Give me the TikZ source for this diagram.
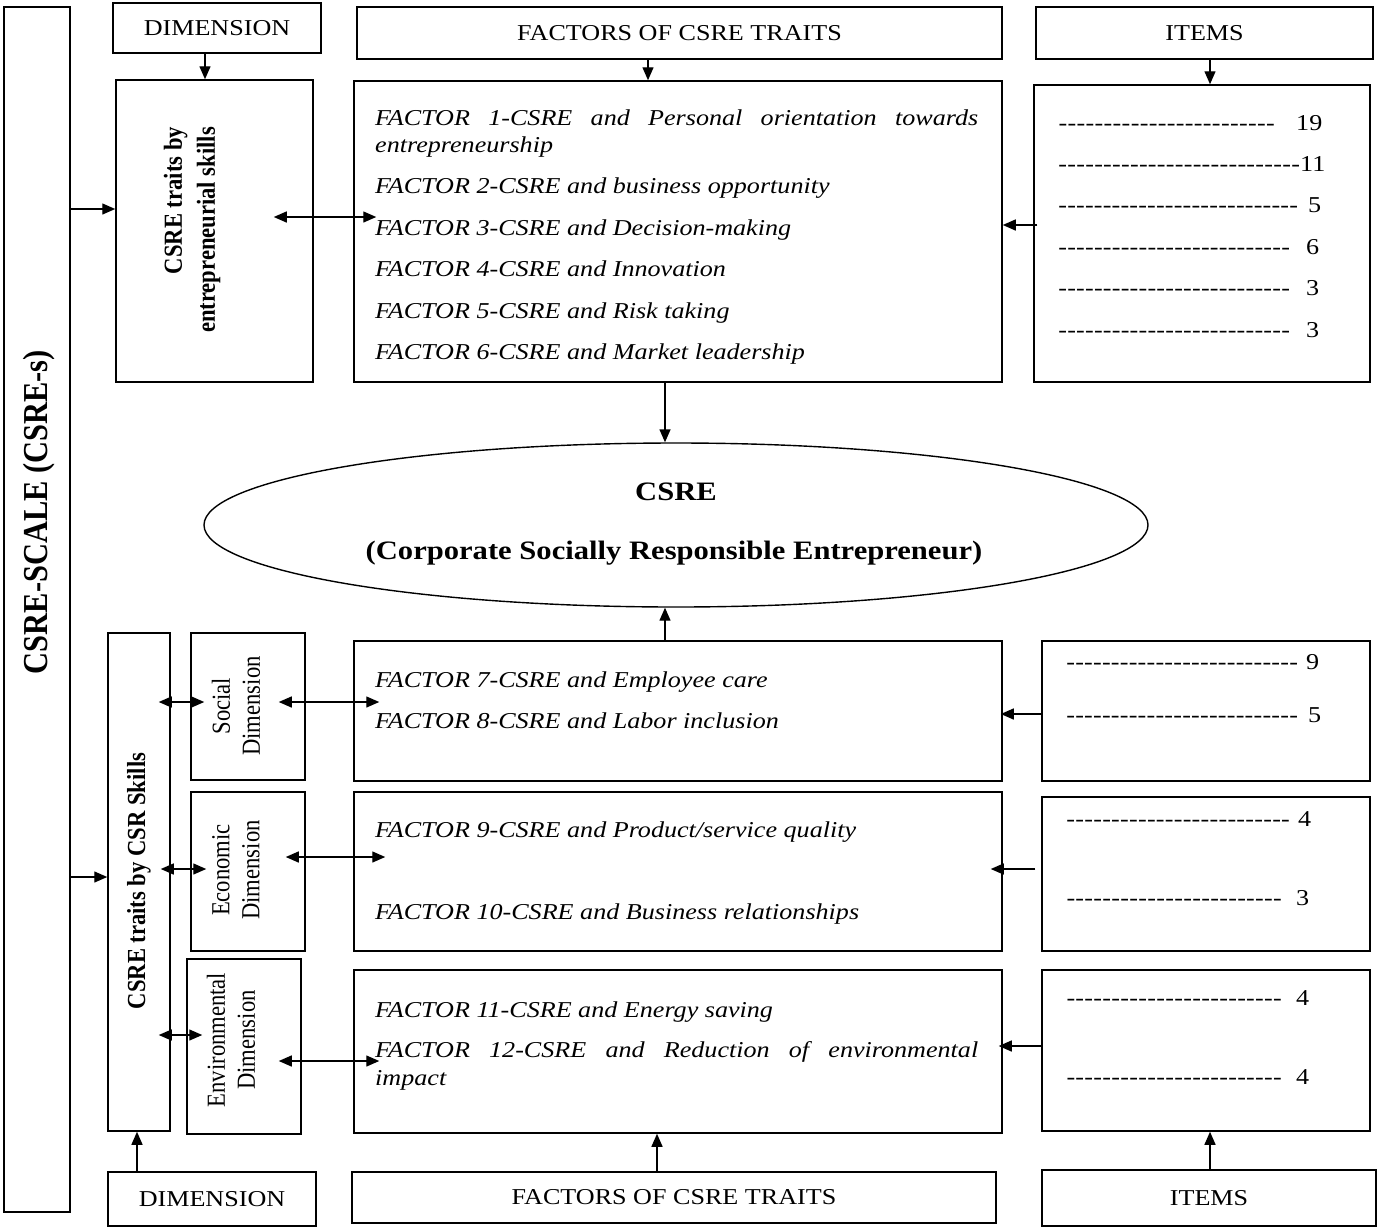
\documentclass[tikz,border=0pt]{standalone}
\usepackage{fontspec}
\setmainfont{Liberation Serif}[FakeStretch=1.15]
\newfontfamily\rotfont{Liberation Serif}[FakeStretch=0.87]
\usetikzlibrary{arrows.meta,shapes.geometric}
\newcommand{\dashrow}[1]{\hbox to #1pt{\xleaders\hbox{-}\hfill}}
\tikzset{
  box/.style={draw,line width=1.5pt,inner sep=0pt},
  arr/.style={line width=1.4pt,-{Triangle[length=13pt,width=11pt]}},
  darr/.style={line width=1.4pt,{Triangle[length=13pt,width=11pt]}-{Triangle[length=13pt,width=11pt]}},
  hd/.style={font=\fontsize{22.7}{27}\selectfont},
  ft/.style={anchor=base west,inner sep=0pt,font=\fontsize{22.7}{27}\selectfont\itshape},
  it/.style={anchor=base west,inner sep=0pt,font=\fontsize{22.7}{27}\selectfont},
  rt/.style={rotate=90,inner sep=0pt,align=center,font=\rotfont\fontsize{26}{30}\selectfont},
  rtb/.style={rotate=90,inner sep=0pt,font=\rotfont\bfseries\fontsize{26}{33}\selectfont},
  et/.style={inner sep=0pt,font=\bfseries\fontsize{26.6}{30}\selectfont},
}
\begin{document}
\begin{tikzpicture}[x=1pt,y=-1pt]
\useasboundingbox (0,0) rectangle (1381,1229);
% left big box
\node[box,minimum width=66pt,minimum height=1205pt] (bigL) at (37,609.5) {};
\node[rtb,font=\rotfont\bfseries\fontsize{35}{40}\selectfont] (bigLt) at (39,512) {CSRE-SCALE (CSRE-s)};
% top headers
\node[box,hd,minimum width=208pt,minimum height=50pt] (dimT) at (217,28) {DIMENSION};
\node[box,hd,minimum width=645pt,minimum height=52pt] (facT) at (679.5,33) {FACTORS OF CSRE TRAITS};
\node[box,hd,minimum width=337pt,minimum height=52pt] (itmT) at (1204.5,33) {ITEMS};
% top row
\node[box,minimum width=197pt,minimum height=302pt] (entB) at (214.5,231) {};
\node[rtb,align=right] (entBt) at (192,230) {CSRE traits by\\entrepreneurial skills};
\node[box,minimum width=648pt,minimum height=301pt] (fac1) at (678,231.5) {};
\node[box,minimum width=336pt,minimum height=297pt] (itm1) at (1202,233.5) {};
\node[ft] (f1) at (375,125.5) {\hbox to 603pt{FACTOR\hfill 1-CSRE\hfill and\hfill Personal\hfill orientation\hfill towards}};
\node[ft] (f1b) at (375,152.5) {entrepreneurship};
\node[ft] (f2) at (375,193.5) {FACTOR 2-CSRE and business opportunity};
\node[ft] (f3) at (375,235.5) {FACTOR 3-CSRE and Decision-making};
\node[ft] (f4) at (375,276.5) {FACTOR 4-CSRE and Innovation};
\node[ft] (f5) at (375,318.5) {FACTOR 5-CSRE and Risk taking};
\node[ft] (f6) at (375,359.5) {FACTOR 6-CSRE and Market leadership};
\node[it] (n1) at (1058,130) {\dashrow{217}\hspace{21pt}19};
\node[it] (n2) at (1058,171) {\dashrow{242}11};
\node[it] (n3) at (1058,212) {\dashrow{240}\hspace{10pt}5};
\node[it] (n4) at (1058,254) {\dashrow{232}\hspace{16pt}6};
\node[it] (n5) at (1058,295) {\dashrow{232}\hspace{16pt}3};
\node[it] (n6) at (1058,337) {\dashrow{232}\hspace{16pt}3};
% ellipse
\node[draw,ellipse,line width=1.4pt,minimum width=944pt,minimum height=164pt,inner sep=0pt] (ell) at (676,525) {};
\node[et] (ellt1) at (676,492) {CSRE};
\node[et] (ellt2) at (674,553) {(Corporate Socially Responsible Entrepreneur)};
% bottom left
\node[box,minimum width=62pt,minimum height=498pt] (csrB) at (139,882) {};
\node[rtb] (csrBt) at (139,881) {CSRE traits by CSR Skills};
\node[box,minimum width=114pt,minimum height=147pt] (soc) at (248,706.5) {};
\node[rt] (soct) at (236,706) {Social\\Dimension};
\node[box,minimum width=114pt,minimum height=159pt] (eco) at (248,871.5) {};
\node[rt] (ecot) at (236,870) {Economic\\Dimension};
\node[box,minimum width=114pt,minimum height=175pt] (env) at (244,1046.5) {};
\node[rt] (envt) at (231,1040) {Environmental\\Dimension};
% bottom factors
\node[box,minimum width=648pt,minimum height=140pt] (fac2) at (678,711) {};
\node[box,minimum width=648pt,minimum height=159pt] (fac3) at (678,871.5) {};
\node[box,minimum width=648pt,minimum height=163pt] (fac4) at (678,1051.5) {};
\node[ft] (f7) at (375,687.5) {FACTOR 7-CSRE and Employee care};
\node[ft] (f8) at (375,728.5) {FACTOR 8-CSRE and Labor inclusion};
\node[ft] (f9) at (375,837.5) {FACTOR 9-CSRE and Product/service quality};
\node[ft] (f10) at (375,919.5) {FACTOR 10-CSRE and Business relationships};
\node[ft] (f11) at (375,1017.5) {FACTOR 11-CSRE and Energy saving};
\node[ft] (f12) at (375,1057.5) {\hbox to 603pt{FACTOR\hfill 12-CSRE\hfill and\hfill Reduction\hfill of\hfill environmental}};
\node[ft] (f12b) at (375,1085.5) {impact};
% bottom items
\node[box,minimum width=328pt,minimum height=140pt] (itm2) at (1206,711) {};
\node[box,minimum width=328pt,minimum height=154pt] (itm3) at (1206,874) {};
\node[box,minimum width=328pt,minimum height=161pt] (itm4) at (1206,1050.5) {};
\node[it] (n7) at (1066,669) {\dashrow{232}\hspace{8pt}9};
\node[it] (n8) at (1066,722) {\dashrow{232}\hspace{10pt}5};
\node[it] (n9) at (1066,826) {\dashrow{224}\hspace{8pt}4};
\node[it] (n10) at (1066,905) {\dashrow{216}\hspace{14pt}3};
\node[it] (n11) at (1066,1005) {\dashrow{216}\hspace{14pt}4};
\node[it] (n12) at (1066,1084) {\dashrow{216}\hspace{14pt}4};
% bottom headers
\node[box,hd,minimum width=208pt,minimum height=54pt] (dimB) at (212,1199) {DIMENSION};
\node[box,hd,minimum width=644pt,minimum height=51pt] (facB) at (674,1197.5) {FACTORS OF CSRE TRAITS};
\node[box,hd,minimum width=334pt,minimum height=56pt] (itmB) at (1209,1198) {ITEMS};
% level coordinates
\coordinate (yA) at (0,209);
\coordinate (yB) at (0,217);
\coordinate (yC) at (0,225);
\coordinate (yD) at (0,877);
\coordinate (yE) at (0,702);
\coordinate (yF) at (0,869);
\coordinate (yG) at (0,1035);
\coordinate (yH) at (0,857);
\coordinate (yI) at (0,1061);
\coordinate (yJ) at (0,714);
\coordinate (yK) at (0,1046);
% arrows top
\draw[arr] ([xshift=-12pt]dimT.south) -- ([xshift=-12pt]dimT.south |- entB.north);
\draw[arr] ([xshift=-31.5pt]facT.south) -- ([xshift=-31.5pt]facT.south |- fac1.north);
\draw[arr] ([xshift=5.5pt]itmT.south) -- ([xshift=5.5pt]itmT.south |- itm1.north);
\draw[arr] (bigL.east |- yA) -- (entB.west |- yA);
\draw[darr] ([xshift=-40pt]entB.east |- yB) -- ([xshift=23pt]fac1.west |- yB);
\draw[arr] ([xshift=4pt]itm1.west |- yC) -- (fac1.east |- yC);
\draw[arr] ([xshift=-13pt]fac1.south) -- ([xshift=-13pt]fac1.south |- ell.north);
\draw[arr] ([xshift=-13pt]fac2.north) -- ([xshift=-13pt]fac2.north |- ell.south);
% arrows bottom
\draw[arr] (bigL.east |- yD) -- (csrB.west |- yD);
\draw[darr] ([xshift=-12pt]csrB.east |- yE) -- ([xshift=14pt]soc.west |- yE);
\draw[darr] ([xshift=-10pt]csrB.east |- yF) -- ([xshift=16pt]eco.west |- yF);
\draw[darr] ([xshift=-12pt]csrB.east |- yG) -- ([xshift=16pt]env.west |- yG);
\draw[darr] ([xshift=-27pt]soc.east |- yE) -- ([xshift=26pt]fac2.west |- yE);
\draw[darr] ([xshift=-20pt]eco.east |- yH) -- ([xshift=32pt]fac3.west |- yH);
\draw[darr] ([xshift=-23pt]env.east |- yI) -- ([xshift=26pt]fac4.west |- yI);
\draw[arr] (itm2.west |- yJ) -- ([xshift=-2pt]fac2.east |- yJ);
\draw[arr] ([xshift=-6pt]itm3.west |- yF) -- ([xshift=-12pt]fac3.east |- yF);
\draw[arr] (itm4.west |- yK) -- ([xshift=-4pt]fac4.east |- yK);
\draw[arr] ([xshift=-75pt]dimB.north) -- ([xshift=-75pt]dimB.north |- csrB.south);
\draw[arr] ([xshift=-17pt]facB.north) -- ([xshift=-17pt]facB.north |- fac4.south);
\draw[arr] ([xshift=1pt]itmB.north) -- ([xshift=1pt]itmB.north |- itm4.south);
\end{tikzpicture}
\end{document}
